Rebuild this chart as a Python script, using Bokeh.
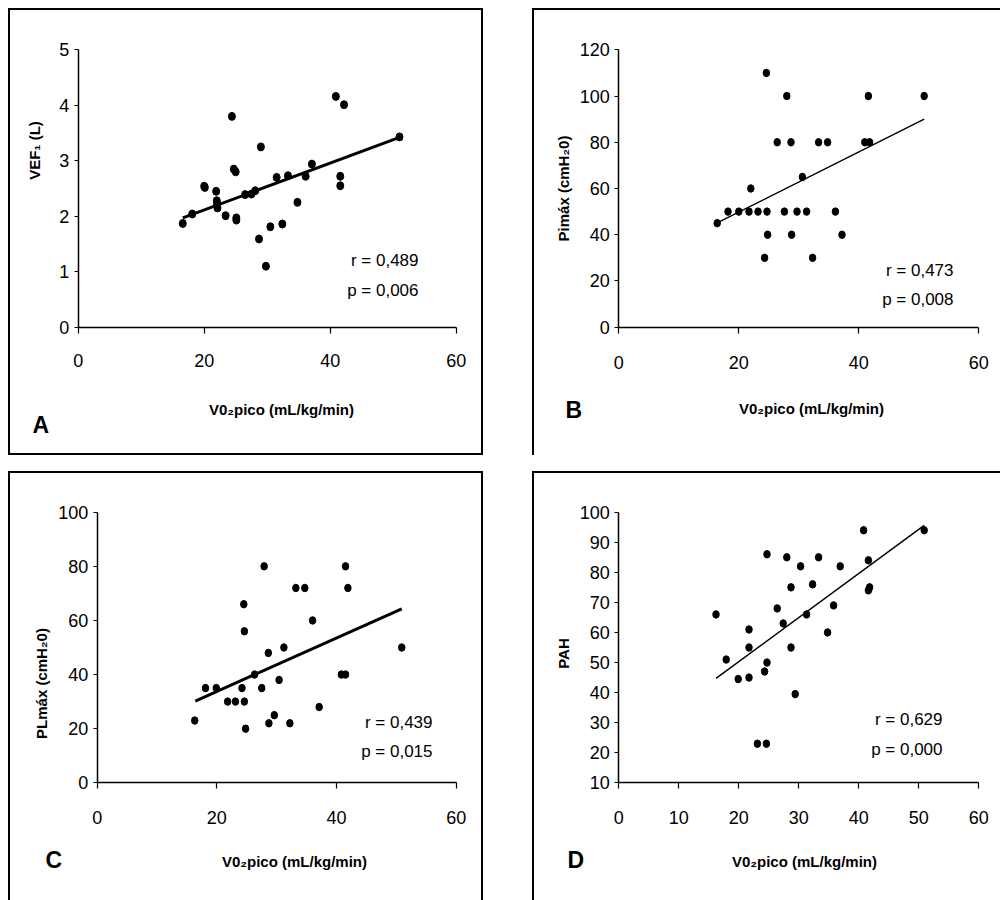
from bokeh.plotting import figure
from bokeh.models import Range1d, Label, FixedTicker, Spacer
from bokeh.layouts import column, row
from bokeh.embed import file_html
from bokeh.resources import INLINE

# ---------------- data ----------------
x_label = "V0\u2082pico (mL/kg/min)"

# Panel A: VEF1 (L)
vo2_a = [16.6, 18.1, 20.0, 20.1, 21.9, 22.0, 22.05, 22.1, 23.4, 24.4, 24.7, 25.0, 25.1, 25.1,
         26.5, 27.5, 28.1, 28.7, 29.0, 29.8, 30.5, 31.5, 32.4, 33.3, 34.8, 36.1, 37.1,
         40.9, 41.6, 41.6, 42.2, 51.0]
vef1 = [1.87, 2.04, 2.54, 2.52, 2.45, 2.28, 2.22, 2.15, 2.01, 3.80, 2.85, 2.80, 1.97, 1.93,
        2.39, 2.40, 2.46, 1.59, 3.25, 1.10, 1.81, 2.70, 1.86, 2.73, 2.25, 2.72, 2.94,
        4.16, 2.72, 2.55, 4.01, 3.43]
fit_a_x = [16.6, 51.0]
fit_a_y = [1.97, 3.42]
stats_a = ["r = 0,489", "p = 0,006"]

# Panel B: Pimax
vo2_b = [16.4, 18.2, 20.0, 21.7, 22.0, 23.2, 24.3, 24.6, 24.7, 24.8, 26.4, 27.6, 28.0, 28.7,
         28.8, 29.7, 30.6, 31.3, 32.3, 33.3, 34.8, 36.1, 37.2, 41.0, 41.6, 41.8, 50.9]
pimax = [45, 50, 50, 50, 60, 50, 30, 110, 50, 40, 80, 50, 100, 80,
         40, 50, 65, 50, 30, 80, 80, 50, 40, 80, 100, 80, 100]
fit_b_x = [16.4, 50.9]
fit_b_y = [45.1, 90.0]
stats_b = ["r = 0,473", "p = 0,008"]

# Panel C: PLmax
vo2_c = [16.3, 18.1, 19.9, 21.8, 23.1, 24.2, 24.5, 24.6, 24.6, 24.8, 26.3, 27.5, 27.9, 28.6,
         28.7, 29.6, 30.4, 31.2, 32.2, 33.2, 34.7, 36.0, 37.1, 40.8, 41.5, 41.5, 41.9, 50.9]
plmax = [23, 35, 35, 30, 30, 35, 66, 56, 30, 20, 40, 35, 80, 48,
         22, 25, 38, 50, 22, 72, 72, 60, 28, 40, 40, 80, 72, 50]
fit_c_x = [16.4, 50.9]
fit_c_y = [30.2, 64.3]
stats_c = ["r = 0,439", "p = 0,015"]

# Panel D: PAH
vo2_d = [16.2, 17.9, 19.9, 21.7, 21.7, 21.7, 23.1, 24.3, 24.6, 24.7, 24.7, 26.4, 27.4, 28.0,
         28.7, 28.7, 29.4, 30.3, 31.3, 32.3, 33.3, 34.8, 35.8, 36.9, 40.8, 41.6, 41.6, 41.8, 50.9]
pah = [66, 51, 44.5, 61, 55, 45, 23, 47, 23, 86, 50, 68, 63, 85,
       75, 55, 39.5, 82, 66, 76, 85, 60, 69, 82, 94, 84, 74, 75, 94]
fit_d_x = [16.2, 50.9]
fit_d_y = [44.7, 95.6]
stats_d = ["r = 0,629", "p = 0,000"]

FONT = "Liberation Sans"
XMIN, XMAX = 0, 60


def panel(cfg):
    # page-pixel layout of the panel -> data ranges spanning the whole canvas
    ox, oy, w, h = cfg["canvas"]
    px0, px1, pyb, pyt = cfg["axpx"]
    ymin, ymax = cfg["ymin"], cfg["ymax"]
    sx = (px1 - px0) / (XMAX - XMIN)
    sy = (pyb - pyt) / (ymax - ymin)
    xr = Range1d(XMIN + (ox - px0) / sx, XMIN + (ox + w - px0) / sx)
    yr = Range1d(ymin - (oy + h - pyb) / sy, ymin + (pyb - oy) / sy)

    p = figure(width=w, height=h, output_backend="svg", toolbar_location=None,
               x_range=xr, y_range=yr, min_border=0,
               background_fill_color=None, border_fill_color=None,
               styles={"box-shadow": cfg["shadow"]})
    p.outline_line_color = None
    p.grid.visible = False
    p.xaxis.ticker = FixedTicker(ticks=cfg["xticks"])
    p.yaxis.ticker = FixedTicker(ticks=cfg["yticks"])
    p.xaxis.fixed_location = ymin
    p.xaxis.bounds = (XMIN, XMAX)
    p.yaxis.fixed_location = XMIN
    p.yaxis.bounds = (ymin, ymax)
    for ax in (p.xaxis[0], p.yaxis[0]):
        ax.axis_line_color = "black"
        ax.axis_line_width = 1.5
        ax.major_tick_line_color = "black"
        ax.major_tick_line_width = 1.2
        ax.major_tick_in = 0
        ax.minor_tick_line_color = None
        ax.major_label_text_font = FONT
        ax.major_label_text_font_size = "18px"
        ax.major_label_text_color = "black"
    p.xaxis.major_tick_out = 6
    p.xaxis.major_label_standoff = cfg["xstand"]
    p.yaxis.major_tick_out = 4
    p.yaxis.major_label_standoff = 5

    p.line(cfg["fx"], cfg["fy"], line_color="black", line_width=cfg["lw"])
    p.ellipse(cfg["x"], cfg["y"], width=cfg["dw"], height=cfg["dh"], width_units="screen",
              height_units="screen", fill_color="black", line_color="black")

    def lab(text, tx, ty, align, size, bold=False, angle=0):
        p.add_layout(Label(x=XMIN, y=ymin, x_offset=tx - px0, y_offset=pyb - ty, text=text,
                           text_align=align, text_baseline="middle", angle=angle,
                           angle_units="deg", text_font=FONT, text_font_size=size,
                           text_font_style="bold" if bold else "normal", text_color="black"))

    (rx, ry), (qx, qy) = cfg["statpos"]
    lab(cfg["stats"][0], rx, ry, "right", "17px")
    lab(cfg["stats"][1], qx, qy, "right", "17px")
    lab(x_label, *cfg["xtitle"], "center", "15px", bold=True)
    lab(cfg["ylabel"], *cfg["ytitle"], "center", "15px", bold=True, angle=90)
    lab(cfg["letter"], *cfg["letterpos"], "left", "23px", bold=True)
    return p


pa = panel(dict(canvas=(8, 8, 475, 447), axpx=(77.7, 455.7, 326.7, 49.3), ymin=0, ymax=5,
                xticks=[0, 20, 40, 60], yticks=[0, 1, 2, 3, 4, 5], xstand=21,
                x=vo2_a, y=vef1, fx=fit_a_x, fy=fit_a_y, lw=3, dw=7, dh=8, stats=stats_a,
                statpos=((418, 260), (418, 290)), xtitle=(281, 409),
                ylabel="VEF\u2081 (L)", ytitle=(33.5, 150), letter="A", letterpos=(32, 424),
                shadow="inset 0 0 0 2px black"))
pb = panel(dict(canvas=(532, 8, 468, 447), axpx=(618.3, 978.3, 326.7, 49.3), ymin=0, ymax=120,
                xticks=[0, 20, 40, 60], yticks=[0, 20, 40, 60, 80, 100, 120], xstand=23,
                x=vo2_b, y=pimax, fx=fit_b_x, fy=fit_b_y, lw=1.5, dw=6.5, dh=7.5, stats=stats_b,
                statpos=((953, 270), (953, 299)), xtitle=(811, 408),
                ylabel="Pimáx (cmH\u20820)", ytitle=(562.5, 188), letter="B", letterpos=(565, 409),
                shadow="inset 2px 2px 0 0 black"))
pc = panel(dict(canvas=(8, 471, 475, 429), axpx=(96.7, 455.7, 782.3, 511.7), ymin=0, ymax=100,
                xticks=[0, 20, 40, 60], yticks=[0, 20, 40, 60, 80, 100], xstand=22,
                x=vo2_c, y=plmax, fx=fit_c_x, fy=fit_c_y, lw=3, dw=6.5, dh=7.5, stats=stats_c,
                statpos=((432, 721.7), (432, 750.8)), xtitle=(294, 861),
                ylabel="PLmáx (cmH\u20820)", ytitle=(41, 683), letter="C", letterpos=(45, 859),
                shadow="inset 2px 2px 0 0 black, inset -2px 0 0 0 black"))
pd_ = panel(dict(canvas=(532, 471, 468, 429), axpx=(618.3, 978.3, 782.3, 511.7), ymin=10, ymax=100,
                 xticks=[0, 10, 20, 30, 40, 50, 60], yticks=list(range(10, 101, 10)), xstand=22,
                 x=vo2_d, y=pah, fx=fit_d_x, fy=fit_d_y, lw=1.5, dw=6.5, dh=7.5, stats=stats_d,
                 statpos=((942, 719), (942, 749)), xtitle=(804, 861),
                 ylabel="PAH", ytitle=(562.5, 653), letter="D", letterpos=(567, 859),
                 shadow="inset 2px 2px 0 0 black"))

layout = column(Spacer(height=8),
                row(Spacer(width=8), pa, Spacer(width=49), pb),
                Spacer(height=16),
                row(Spacer(width=8), pc, Spacer(width=49), pd_))
open("out.html", "w").write(file_html(layout, INLINE))
